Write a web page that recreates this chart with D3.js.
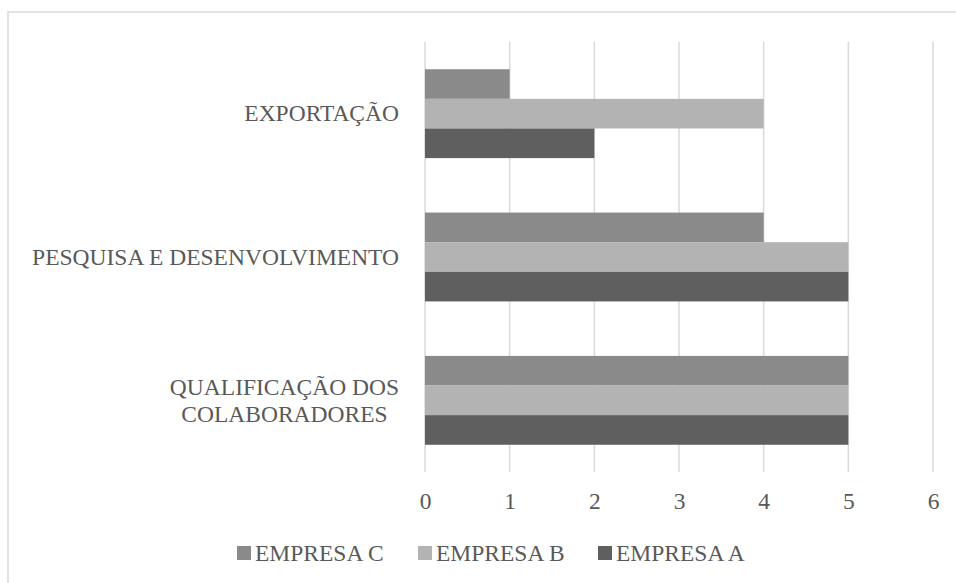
<!DOCTYPE html>
<html>
<head>
<meta charset="utf-8">
<script src="https://cdn.jsdelivr.net/npm/d3@7"></script>
<style>
  html, body { margin: 0; padding: 0; background: #fff; }
  svg { display: block; }
  svg text { font-family: "Liberation Serif", Tinos, "DejaVu Serif", serif; fill: #595959; }
</style>
</head>
<body>
<svg id="chart" width="956" height="583"></svg>
<script>
// Categories, top to bottom
const categories = ["EXPORTAÇÃO", "PESQUISA E DESENVOLVIMENTO", "QUALIFICAÇÃO DOS COLABORADORES"];
const categoryLines = [["EXPORTAÇÃO"], ["PESQUISA E DESENVOLVIMENTO"], ["QUALIFICAÇÃO DOS", "COLABORADORES"]];
// Series, in legend / in-band order (top to bottom)
const seriesNames = ["EMPRESA C", "EMPRESA B", "EMPRESA A"];
const empresaC = [1, 4, 5];
const empresaB = [4, 5, 5];
const empresaA = [2, 5, 5];
const seriesValues = [empresaC, empresaB, empresaA];
const seriesColors = ["#8a8a8a", "#b3b3b3", "#5f5f5f"];
const xTicks = [0, 1, 2, 3, 4, 5, 6];

const FONT = '"Liberation Serif", Tinos, "DejaVu Serif", serif';
const svg = d3.select("#chart");
const W = 956, H = 583;
const plot = { left: 425, right: 933, top: 42, bottom: 472 };
const fontSize = 23.5;

// Chart frame (extends past the canvas on the right and bottom)
svg.append("rect")
  .attr("x", 8).attr("y", 12)
  .attr("width", W + 20).attr("height", H + 20)
  .attr("fill", "#fff")
  .attr("stroke", "#d9d9d9").attr("stroke-width", 1.5);

const x = d3.scaleLinear().domain([0, 6]).range([plot.left, plot.right]);
const y = d3.scaleBand().domain(categories).range([plot.top, plot.bottom]).paddingInner(0.38).paddingOuter(0.19);
const ySub = d3.scaleBand().domain(seriesNames).range([0, y.bandwidth()]);

// Vertical gridlines
svg.append("g").selectAll("line").data(xTicks).join("line")
  .attr("x1", d => x(d)).attr("x2", d => x(d))
  .attr("y1", plot.top).attr("y2", plot.bottom)
  .attr("stroke", "#d9d9d9").attr("stroke-width", 1.5);

// Bars
const groups = svg.append("g").selectAll("g").data(categories).join("g")
  .attr("transform", d => `translate(0,${y(d)})`);
groups.selectAll("rect")
  .data((c, i) => seriesNames.map((s, k) => ({ s, v: seriesValues[k][i], color: seriesColors[k] })))
  .join("rect")
  .attr("x", x(0))
  .attr("y", d => ySub(d.s))
  .attr("width", d => x(d.v) - x(0))
  .attr("height", ySub.bandwidth())
  .attr("fill", d => d.color);

// X axis tick labels
const xAxis = d3.axisBottom(x).tickValues(xTicks).tickFormat(d3.format("d")).tickSize(0).tickPadding(0);
const gx = svg.append("g").attr("transform", `translate(0,${plot.bottom})`).call(xAxis)
  .attr("font-family", FONT).attr("font-size", fontSize);
gx.select(".domain").remove();
gx.selectAll("text")
  .attr("dy", null).attr("y", 37)
  .attr("font-family", FONT).attr("font-size", fontSize).attr("fill", "#595959");

// Category labels (multi-line labels are centered on each other)
const labelRight = 399;
const lineGap = 27;
categoryLines.forEach((lines, i) => {
  const cy = y(categories[i]) + y.bandwidth() / 2;
  const g = svg.append("g");
  const texts = lines.map((ln, j) => g.append("text")
    .attr("font-family", FONT)
    .attr("font-size", fontSize)
    .attr("y", cy + fontSize * 0.33 + (j - (lines.length - 1) / 2) * lineGap)
    .text(ln));
  const maxW = d3.max(texts, t => t.node().getComputedTextLength());
  texts.forEach(t => t.attr("text-anchor", "middle").attr("x", labelRight - maxW / 2));
});

// Legend
const legendY = 553;
const legendX = [237, 418, 598];
const lg = svg.append("g").selectAll("g").data(seriesNames).join("g")
  .attr("transform", (d, i) => `translate(${legendX[i]},${legendY})`);
lg.append("rect").attr("x", 0).attr("y", -7).attr("width", 14).attr("height", 14)
  .attr("fill", (d, i) => seriesColors[i]);
lg.append("text").attr("x", 18).attr("y", 8)
  .attr("font-family", FONT).attr("font-size", fontSize).text(d => d);
</script>
</body>
</html>
